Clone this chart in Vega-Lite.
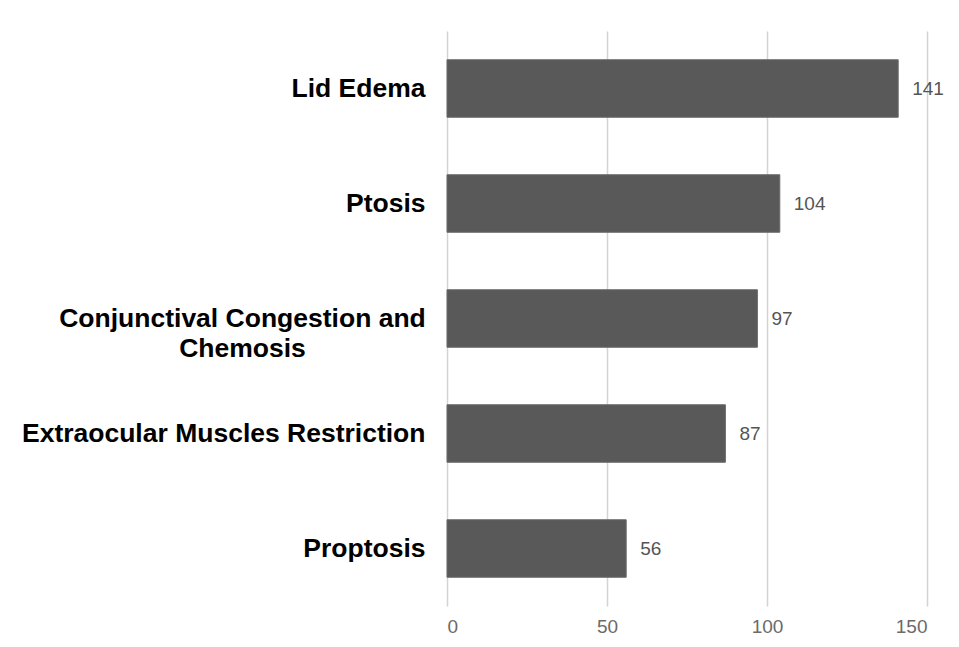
{
  "$schema": "https://vega.github.io/schema/vega-lite/v6.json",
  "autosize": "none",
  "width": 480,
  "height": 575,
  "padding": {"left": 447, "top": 31, "right": 32, "bottom": 41},
  "background": "white",
  "config": {"view": {"stroke": null}},
  "data": {
    "values": [
      {"symptom": "Lid Edema", "count": 141},
      {"symptom": "Ptosis", "count": 104},
      {"symptom": "Conjunctival Congestion and Chemosis", "count": 97},
      {"symptom": "Extraocular Muscles Restriction", "count": 87},
      {"symptom": "Proptosis", "count": 56}
    ]
  },
  "encoding": {
    "y": {
      "field": "symptom",
      "type": "nominal",
      "sort": null,
      "scale": {"paddingInner": 0.5, "paddingOuter": 0.25},
      "axis": {
        "title": null,
        "domain": false,
        "ticks": false,
        "labelFont": "Liberation Sans",
        "labelFontWeight": "bold",
        "labelFontSize": 26.5,
        "labelColor": "#000000",
        "labelLimit": 0,
        "labelLineHeight": 30,
        "labelPadding": {"condition": {"test": "datum.value == 'Conjunctival Congestion and Chemosis'", "value": 205}, "value": 22},
        "labelAlign": {"condition": {"test": "datum.value == 'Conjunctival Congestion and Chemosis'", "value": "center"}, "value": "right"},
        "labelExpr": "datum.value == 'Conjunctival Congestion and Chemosis' ? ['Conjunctival Congestion and', 'Chemosis'] : datum.value"
      }
    },
    "x": {
      "field": "count",
      "type": "quantitative",
      "scale": {"domain": [0, 150], "nice": false},
      "axis": {
        "title": null,
        "domain": false,
        "ticks": false,
        "values": [0, 50, 100, 150],
        "grid": true,
        "gridColor": "#d4d4d4",
        "gridWidth": 1.5,
        "labelFont": "Liberation Sans",
        "labelFontSize": 19,
        "labelColor": "#6a6a6a",
        "labelPadding": 11
      }
    }
  },
  "layer": [
    {"mark": {"type": "bar", "color": "#595959", "stroke": "#6a6a6a", "strokeWidth": 1}},
    {
      "mark": {"type": "text", "align": "left", "baseline": "middle", "dx": 14, "font": "Liberation Sans", "fontSize": 19, "color": "#555555"},
      "encoding": {"text": {"field": "count", "type": "quantitative"}}
    }
  ]
}
